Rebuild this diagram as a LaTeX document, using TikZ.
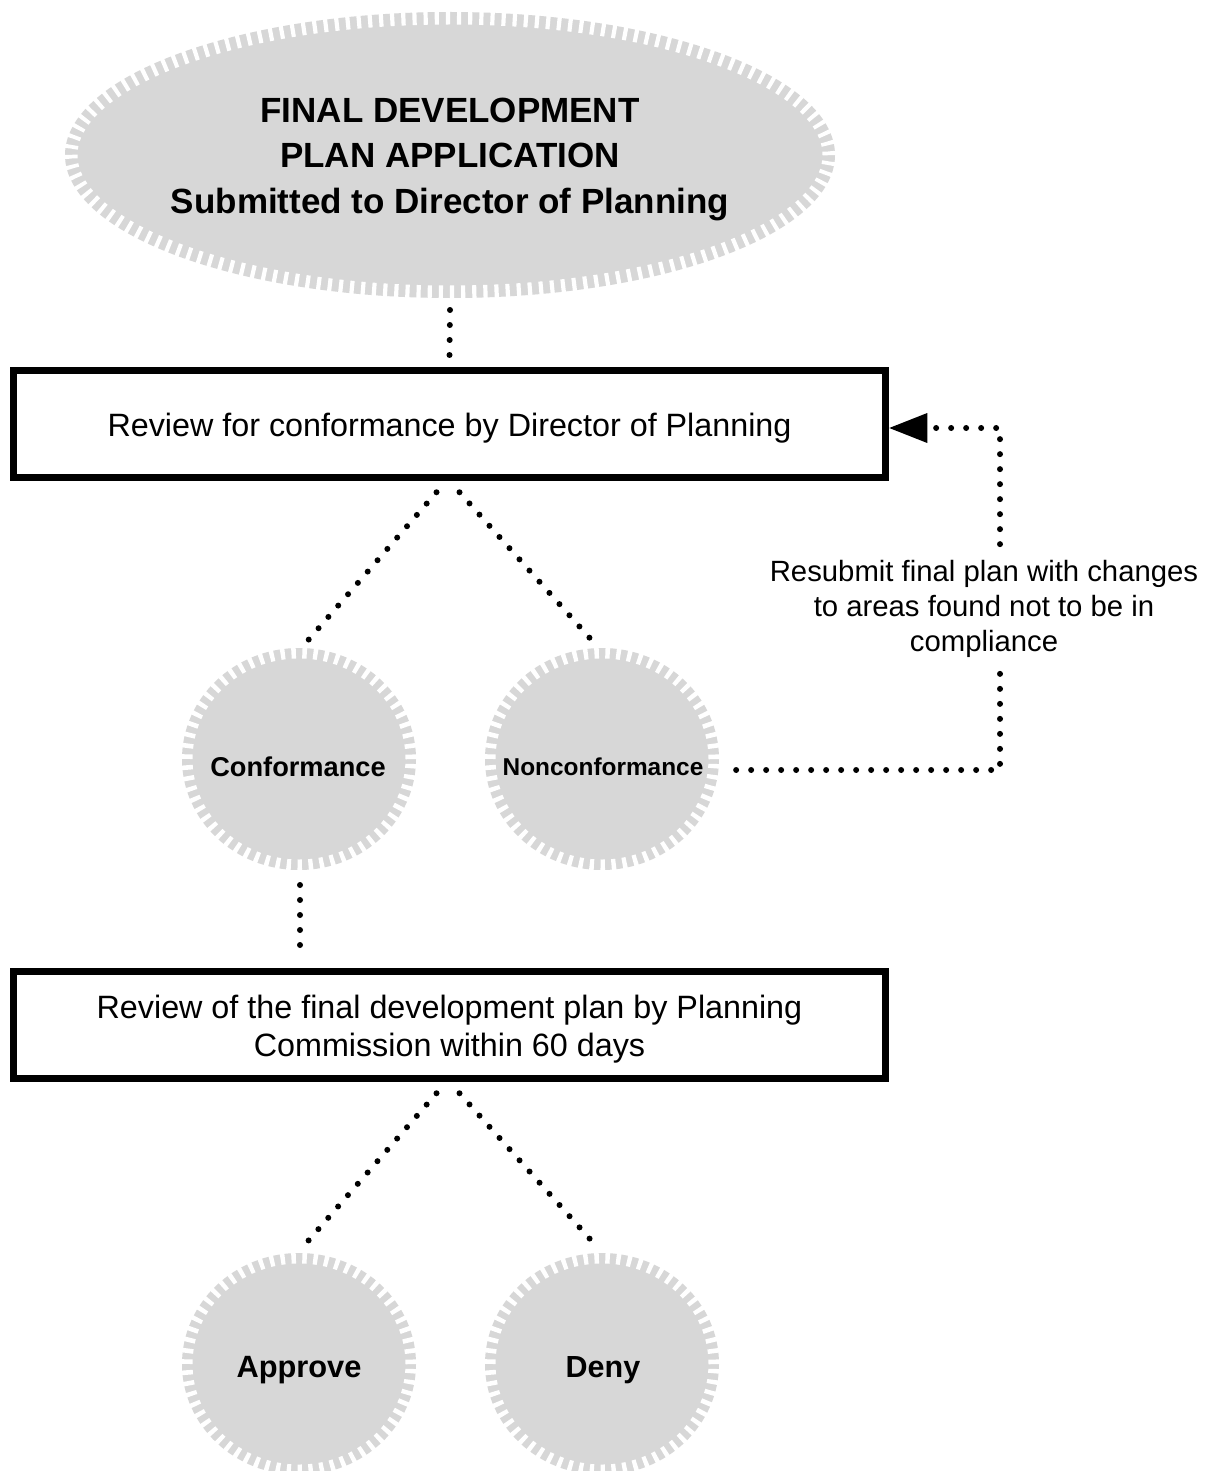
\documentclass[tikz,border=0pt]{standalone}
\usepackage{fontspec}
\setmainfont{Liberation Sans}
\usetikzlibrary{shapes.geometric,arrows.meta,calc}
\definecolor{blobgray}{RGB}{215,215,215}
\begin{document}
\begin{tikzpicture}[x=1pt,y=-1pt,
  blobbase/.style={ellipse, fill=blobgray, inner sep=0pt, outer sep=0pt},
  smallblob/.style={blobbase, minimum width=234pt, minimum height=222pt,
    postaction={draw=white, line width=21pt, dash pattern=on 4.6pt off 6.8pt}},
  bigblob/.style={blobbase, minimum width=770pt, minimum height=286pt,
    postaction={draw=white, line width=25pt, dash pattern=on 4.2pt off 7pt}},
  blobtext/.style={font=\bfseries\fontsize{#1}{#1}\selectfont, inner sep=0pt},
  stepbox/.style={draw, line width=7.5pt, fill=white, minimum width=872pt, minimum height=107pt, inner sep=0pt},
  boxtext/.style={align=center, font=\fontsize{32.3}{38}\selectfont},
  dotline/.style={line width=6pt, line cap=round, dash pattern=on 0pt off 15pt}
]
\fill[white] (0,0) rectangle (1214,1471);
\useasboundingbox (0,0) rectangle (1214,1471);

% title ellipse
\node[bigblob] (title) at (450,155) {};
\node[align=center, font=\bfseries\fontsize{35}{45.5}\selectfont] (titletext) at (450,159)
  {FINAL DEVELOPMENT\\PLAN APPLICATION\\Submitted to Director of Planning};

% boxes
\node[stepbox] (box1) at (449.5,424) {};
\node[boxtext] (box1text) at (449.5,428) {Review for conformance by Director of Planning};
\node[stepbox] (box2) at (449.5,1025) {};
\node[boxtext] (box2text) at (449.5,1029) {Review of the final development plan by Planning\\Commission within 60 days};

% circles
\node[smallblob] (conf) at (299,759) {};
\node[blobtext=27.2] (conftext) at (298,767) {Conformance};
\node[smallblob] (noncon) at (602,759) {};
\node[blobtext=24.4] (noncontext) at (603,767) {Nonconformance};
\node[smallblob] (approve) at (299,1364) {};
\node[blobtext=30.8] (approvetext) at (299,1370) {Approve};
\node[smallblob] (deny) at (602,1364) {};
\node[blobtext=30.5] (denytext) at (603,1370) {Deny};

% feedback label
\node[align=center, font=\fontsize{29.3}{35}\selectfont, inner xsep=0pt, inner ysep=16pt] (resub) at (984,609)
  {Resubmit final plan with changes\\to areas found not to be in\\compliance};
\coordinate (fbbot) at (1000,770);
\coordinate (fbtop) at (1000,428);

% connectors
\draw[dotline] ($(title.south)+(0,12)$) -- ($(box1.north)+(0,-11)$);
\draw[dotline] ($(box1.south)+(-13,11)$) -- ($(conf.north)+(5,-3)$);
\draw[dotline] ($(box1.south)+(10,11)$) -- ($(noncon.north)+(-6,-3)$);
\draw[dotline] ($(conf.south)+(1,15)$) -- ($(conf.south |- box2.north)+(1,-10)$);
\draw[dotline] ($(box2.south)+(-13,11)$) -- ($(approve.north)+(3,-5)$);
\draw[dotline] ($(box2.south)+(10,11)$) -- ($(deny.north)+(-4,-5)$);
\draw[dotline] (fbbot |- resub.south) -- (fbbot) -- ($(noncon.east |- fbbot)+(15,0)$);
\draw[dotline, -{Triangle[length=38pt, width=30pt, line width=0pt]}]
  (fbtop |- resub.north) -- (fbtop) -- (box1.east |- fbtop);
\end{tikzpicture}
\end{document}
